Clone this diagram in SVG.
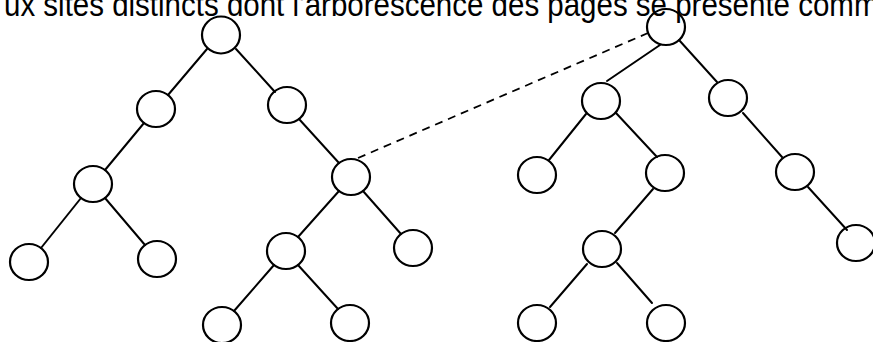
<svg xmlns="http://www.w3.org/2000/svg" width="873" height="342" viewBox="0 0 873 342">
  <style>
    .node ellipse { fill: none; stroke: #000; stroke-width: 2.2; }
    .edge { stroke: #000; stroke-width: 2; stroke-linecap: round; fill: none; }
    .link { stroke: #000; stroke-width: 1.8; stroke-dasharray: 8 6; fill: none; }
    .caption { font-family: "Liberation Sans", Arial, sans-serif; font-size: 29.5px; fill: #000; }
  </style>
  <rect width="873" height="342" fill="#fff"/>

  <!-- caption line, slightly stretched vertically -->
  <text class="caption" x="4" y="14.6" transform="scale(1,1.12)">ux sites distincts dont l'arborescence des pages se présente comm</text>

  <g id="connectors">
    <!-- first site -->
    <line class="edge" x1="207" y1="49" x2="168" y2="95"/>
    <line class="edge" x1="236" y1="49" x2="275" y2="92"/>
    <line class="edge" x1="144" y1="123" x2="105" y2="170"/>
    <line class="edge" x1="299" y1="119" x2="339" y2="163"/>
    <line class="edge" x1="81" y1="198" x2="41" y2="248"/>
    <line class="edge" x1="105" y1="198" x2="145" y2="245"/>
    <line class="edge" x1="339" y1="191" x2="298" y2="237"/>
    <line class="edge" x1="363" y1="191" x2="401" y2="234"/>
    <line class="edge" x1="274" y1="265" x2="234" y2="311"/>
    <line class="edge" x1="298" y1="265" x2="338" y2="309"/>
    <!-- second site -->
    <line class="edge" x1="660" y1="45" x2="607" y2="81"/>
    <line class="edge" x1="679" y1="40" x2="717" y2="82"/>
    <line class="edge" x1="586" y1="114" x2="549" y2="160"/>
    <line class="edge" x1="616" y1="113" x2="657" y2="157"/>
    <line class="edge" x1="743" y1="113" x2="782" y2="157"/>
    <line class="edge" x1="653" y1="189" x2="615" y2="233"/>
    <line class="edge" x1="808" y1="187" x2="847" y2="230"/>
    <line class="edge" x1="587" y1="264" x2="550" y2="307"/>
    <line class="edge" x1="617" y1="263" x2="652" y2="303"/>
    <!-- link between the two sites -->
    <line class="link" x1="358" y1="158" x2="648" y2="33"/>
  </g>

  <!-- first site -->
  <g id="a0" class="node"><ellipse cx="221" cy="35" rx="19" ry="18.5"/></g>
  <g id="a1" class="node"><ellipse cx="156" cy="109" rx="19" ry="18"/></g>
  <g id="a2" class="node"><ellipse cx="287" cy="105" rx="19" ry="18"/></g>
  <g id="a3" class="node"><ellipse cx="93" cy="184" rx="19" ry="18"/></g>
  <g id="a4" class="node"><ellipse cx="351" cy="177" rx="19" ry="18"/></g>
  <g id="a5" class="node"><ellipse cx="29" cy="262" rx="19" ry="18"/></g>
  <g id="a6" class="node"><ellipse cx="157" cy="259" rx="19" ry="18"/></g>
  <g id="a7" class="node"><ellipse cx="286" cy="251" rx="19" ry="18"/></g>
  <g id="a8" class="node"><ellipse cx="413" cy="248" rx="19" ry="18"/></g>
  <g id="a9" class="node"><ellipse cx="222" cy="325" rx="19" ry="18"/></g>
  <g id="a10" class="node"><ellipse cx="350" cy="323" rx="19" ry="18"/></g>

  <!-- second site -->
  <g id="b0" class="node"><ellipse cx="666" cy="27" rx="19" ry="18"/></g>
  <g id="b1" class="node"><ellipse cx="601" cy="101" rx="19" ry="18"/></g>
  <g id="b2" class="node"><ellipse cx="728" cy="98" rx="19" ry="18"/></g>
  <g id="b3" class="node"><ellipse cx="537" cy="175" rx="19" ry="18"/></g>
  <g id="b4" class="node"><ellipse cx="665" cy="173" rx="19" ry="18"/></g>
  <g id="b5" class="node"><ellipse cx="795" cy="172" rx="19" ry="18"/></g>
  <g id="b6" class="node"><ellipse cx="602" cy="249" rx="19" ry="18"/></g>
  <g id="b7" class="node"><ellipse cx="856" cy="243" rx="19" ry="18"/></g>
  <g id="b8" class="node"><ellipse cx="537" cy="323" rx="19" ry="18"/></g>
  <g id="b9" class="node"><ellipse cx="666" cy="323" rx="19" ry="18"/></g>
</svg>
